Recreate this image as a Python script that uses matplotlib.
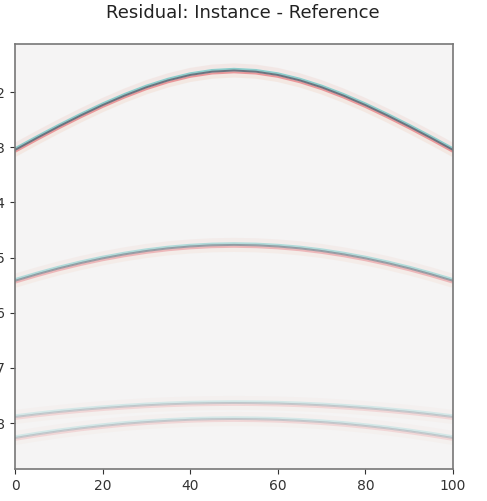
import numpy as np
import matplotlib
matplotlib.use("Agg")
import matplotlib.pyplot as plt

# Trace positions where each reflection was picked
trace = [0, 5, 10, 15, 20, 25, 30, 35, 40, 45, 50,
         55, 60, 65, 70, 75, 80, 85, 90, 95, 100]

# Two-way times (s) of the residual events along the traces
event1 = [0.305, 0.2833, 0.2624, 0.2425, 0.2237, 0.2066, 0.1914, 0.1788, 0.1691, 0.1631, 0.161,
          0.1631, 0.1691, 0.1788, 0.1914, 0.2066, 0.2237, 0.2425, 0.2624, 0.2833, 0.305]
event2 = [0.542, 0.5303, 0.5195, 0.5099, 0.5014, 0.4941, 0.4880, 0.4832, 0.4798, 0.4777, 0.477,
          0.4777, 0.4798, 0.4832, 0.4880, 0.4941, 0.5014, 0.5099, 0.5195, 0.5303, 0.542]
event3 = [0.7888, 0.7840, 0.7797, 0.7760, 0.7727, 0.7699, 0.7675, 0.7657, 0.7644, 0.7637, 0.7634,
          0.7637, 0.7644, 0.7657, 0.7675, 0.7699, 0.7727, 0.7760, 0.7797, 0.7840, 0.7888]
event4 = [0.8268, 0.8204, 0.8146, 0.8094, 0.8050, 0.8011, 0.7980, 0.7956, 0.7938, 0.7928, 0.7924,
          0.7928, 0.7938, 0.7956, 0.7980, 0.8011, 0.8050, 0.8094, 0.8146, 0.8204, 0.8268]

events = [event1, event2, event3, event4]
strengths = [1.0, 0.65, 0.32, 0.32]

y_ticks = [0.2, 0.3, 0.4, 0.5, 0.6, 0.7, 0.8]
x_ticks = [0, 20, 40, 60, 80, 100]

fig = plt.figure(figsize=(4.87, 5.01), dpi=100)
ax = fig.add_axes([15 / 487, 32 / 501, 438 / 487, 425 / 501])
ax.set_facecolor("#f5f4f4")

px = 1.0 / 552.0  # seconds per pixel on the time axis
x = np.asarray(trace, dtype=float)

for ev, s in zip(events, strengths):
    t = np.asarray(ev)
    # faint halos
    ax.plot(x, t - 5.0 * px, color="#f0dcd8", lw=3.0, alpha=0.5 * s, solid_capstyle="butt")
    ax.plot(x, t + 5.0 * px, color="#f2ddd2", lw=3.0, alpha=0.5 * s, solid_capstyle="butt")
    # negative lobe above, positive lobe below
    ax.plot(x, t - 1.6 * px, color="#7cc6c4", lw=1.6, alpha=0.85 * s, solid_capstyle="butt")
    ax.plot(x, t + 1.8 * px, color="#e8898c", lw=1.6, alpha=0.85 * s, solid_capstyle="butt")
    # dark core
    ax.plot(x, t, color="#646e7a", lw=1.4, alpha=0.95 * s, solid_capstyle="butt")

ax.set_xlim(0, 100)
ax.set_ylim(0.883, 0.113)
ax.set_xticks(x_ticks)
ax.set_yticks(y_ticks)
ax.set_yticklabels([f"{v:.1f}" for v in y_ticks])
ax.tick_params(labelsize=10, colors="#333333")
for sp in ax.spines.values():
    sp.set_color("#777777")
    sp.set_linewidth(1.2)

fig.text(243 / 487, 1 - 13 / 501, "Residual: Instance - Reference",
         ha="center", va="center", fontsize=13, color="#222222")

fig.savefig("out.png", dpi=100)
